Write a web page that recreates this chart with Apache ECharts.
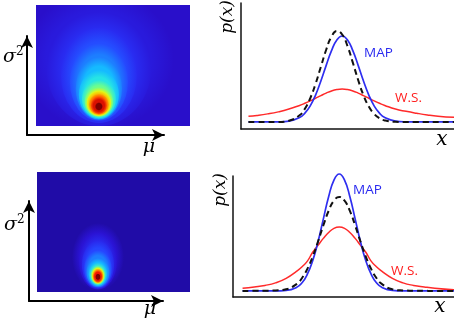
<!DOCTYPE html>
<html>
<head>
<meta charset="utf-8">
<script src="https://cdn.jsdelivr.net/npm/echarts@6/dist/echarts.min.js"></script>
<style>
  html, body { margin: 0; padding: 0; background: #fff; }
  #chart { width: 454px; height: 321px; }
</style>
</head>
<body>
<div id="chart"></div>
<script>
// posterior contours (left panels): level, sigma^2 low/high extent, mu half width
// first entry is the flat floor of the field
const topMu = -0.55;
const topLevels   = [0.10, 0.14, 0.19, 0.25, 0.32, 0.40, 0.47, 0.55, 0.65, 0.74, 0.83, 0.92, 1.0];
const topSigLow   = [-4.0, -0.13, 0.0, 0.10, 0.17, 0.20, 0.23, 0.26, 0.30, 0.33, 0.36, 0.40, 0.50];
const topSigHigh  = [8.0, 4.50, 3.77, 3.24, 2.74, 2.28, 1.85, 1.52, 1.29, 1.16, 1.06, 0.96, 0.79];
const topMuHalf   = [6.0, 2.92, 2.03, 1.48, 1.13, 0.90, 0.78, 0.66, 0.55, 0.47, 0.39, 0.31, 0.16];

const botMu = -0.61;
const botLevels   = [0.03, 0.12, 0.18, 0.24, 0.32, 0.40, 0.50, 0.65, 0.80, 0.90, 1.0];
const botSigLow   = [-4.0, 0.03, 0.08, 0.11, 0.14, 0.17, 0.20, 0.24, 0.28, 0.32, 0.39];
const botSigHigh  = [8.0, 2.30, 1.97, 1.70, 1.40, 1.13, 0.98, 0.87, 0.79, 0.72, 0.62];
const botMuHalf   = [6.0, 1.02, 0.74, 0.63, 0.54, 0.45, 0.36, 0.29, 0.23, 0.18, 0.11];

// densities (right panels)
const topX = [-4.4, -4, -3.5, -3, -2.5, -2, -1.75, -1.5, -1.25, -1, -0.75, -0.5, -0.25, 0,
  0.25, 0.5, 0.75, 1, 1.25, 1.5, 1.75, 2, 2.5, 3, 3.5, 4, 4.5, 5.25];
const topMAP = [0.056, 0.056, 0.056, 0.057, 0.063, 0.091, 0.126, 0.184, 0.269, 0.381, 0.505, 0.622, 0.707, 0.738,
  0.707, 0.622, 0.505, 0.381, 0.269, 0.184, 0.126, 0.091, 0.063, 0.057, 0.056, 0.056, 0.056, 0.056];
const topTrue = [0.056, 0.056, 0.056, 0.056, 0.066, 0.109, 0.161, 0.244, 0.358, 0.494, 0.629, 0.733, 0.778, 0.750,
  0.658, 0.527, 0.389, 0.268, 0.178, 0.120, 0.086, 0.068, 0.057, 0.056, 0.056, 0.056, 0.056, 0.056];
const topWS = [0.101, 0.108, 0.120, 0.136, 0.158, 0.187, 0.204, 0.223, 0.244, 0.265, 0.285, 0.302, 0.313, 0.317,
  0.313, 0.302, 0.285, 0.265, 0.244, 0.223, 0.204, 0.187, 0.158, 0.140, 0.125, 0.112, 0.102, 0.093];

const botX = [-4.55, -4, -3.5, -3, -2.5, -2, -1.75, -1.5, -1.25, -1, -0.75, -0.5, -0.25, 0,
  0.25, 0.5, 0.75, 1, 1.25, 1.5, 1.75, 2, 2.5, 3, 3.5, 4, 4.5, 5.4];
const botMAP = [0.048, 0.048, 0.048, 0.048, 0.052, 0.077, 0.113, 0.181, 0.288, 0.438, 0.618, 0.795, 0.927, 0.976,
  0.927, 0.795, 0.618, 0.438, 0.288, 0.181, 0.113, 0.077, 0.052, 0.048, 0.048, 0.048, 0.048, 0.048];
const botTrue = [0.048, 0.049, 0.050, 0.052, 0.061, 0.104, 0.151, 0.223, 0.320, 0.439, 0.567, 0.683, 0.764, 0.794,
  0.764, 0.683, 0.567, 0.439, 0.320, 0.223, 0.151, 0.104, 0.061, 0.052, 0.050, 0.049, 0.048, 0.048];
const botWS = [0.069, 0.080, 0.092, 0.112, 0.148, 0.205, 0.240, 0.285, 0.355, 0.410, 0.465, 0.512, 0.545, 0.556,
  0.545, 0.512, 0.465, 0.410, 0.355, 0.285, 0.240, 0.205, 0.148, 0.112, 0.092, 0.080, 0.070, 0.057];

const jet = ['#1c0a98', '#2a10d0', '#2838ff', '#1c88ff', '#10dcff', '#70ff88',
  '#f8f800', '#ff8800', '#ff1800', '#800000'];

function contours(mu, levels, lo, hi, half) {
  return levels.map((l, i) => [mu, (lo[i] + hi[i]) / 2, half[i], (hi[i] - lo[i]) / 2, l]);
}
function pairs(xs, ys) {
  return xs.map((x, i) => [x, ys[i]]);
}

// each contour fades into the colour of the one around it
function renderBlob(params, api) {
  const i = params.dataIndexInside;
  const c = api.coord([api.value(0), api.value(1)]);
  const s = api.size([api.value(2), api.value(3)]);
  const col = api.visual('color');
  const outer = i > 0 ? api.visual('color', i - 1) : col;
  const cs = params.coordSys;
  return {
    type: 'group',
    clipPath: { type: 'rect', shape: { x: cs.x, y: cs.y, width: cs.width, height: cs.height } },
    children: [{
      type: 'circle',
      x: c[0], y: c[1], scaleY: s[1] / s[0],
      shape: { cx: 0, cy: 0, r: s[0] },
      style: {
        fill: new echarts.graphic.RadialGradient(0.5, 0.5, 0.5, [
          { offset: 0, color: col }, { offset: 0.7, color: col }, { offset: 1, color: outer }
        ])
      }
    }]
  };
}

const hidden = { show: false };
const plainAxis = (grid, min, max) => ({
  type: 'value', gridIndex: grid, min: min, max: max,
  axisLine: { show: true, onZero: false, lineStyle: { color: '#111', width: 1.5 } },
  axisTick: hidden, axisLabel: hidden, splitLine: hidden
});
const arrowAxis = (grid) => ({
  type: 'value', gridIndex: grid, min: 0, max: 1,
  axisLine: { show: true, onZero: false, symbol: ['none', 'arrow'], symbolSize: [9, 12],
    lineStyle: { color: '#000', width: 2 } },
  axisTick: hidden, axisLabel: hidden, splitLine: hidden
});
const blankAxis = (grid, min, max) => ({
  type: 'value', gridIndex: grid, min: min, max: max, show: false
});

const serif = 'DejaVu Serif';
const label = (x, y, text, color) => ({
  type: 'text', x: x, y: y,
  style: { text: text, fill: color, font: '13.5px "Open Sans"', verticalAlign: 'middle' }
});
const sigma = (x, y) => ({
  type: 'text', x: x, y: y,
  style: {
    text: '{a|σ}{b|2}',
    rich: {
      a: { font: 'italic 19px "' + serif + '"', fill: '#000' },
      b: { font: '12px "' + serif + '"', fill: '#000', verticalAlign: 'top', padding: [0, 0, 10, 0] }
    }
  }
});
const italic = (x, y, text, size, rot) => ({
  type: 'text', x: x, y: y, rotation: rot || 0,
  style: { text: text, fill: '#000', font: 'italic ' + size + 'px "' + serif + '"',
    align: 'center', verticalAlign: 'middle' }
});

const chart = echarts.init(document.getElementById('chart'));

const option = {
  animation: false,
  grid: [
    { left: 36, top: 5, width: 154, height: 121 },
    { left: 27, top: 36, width: 137, height: 99 },
    { left: 37, top: 172, width: 153, height: 120 },
    { left: 29, top: 201, width: 134, height: 100 },
    { left: 241, top: 3, width: 213, height: 126 },
    { left: 233, top: 176, width: 221, height: 121 }
  ],
  xAxis: [
    blankAxis(0, -3, 3), arrowAxis(1), blankAxis(2, -3, 3), arrowAxis(3),
    plainAxis(4, -4.75, 5.25), plainAxis(5, -5, 5.4)
  ],
  yAxis: [
    blankAxis(0, 0, 4), arrowAxis(1), blankAxis(2, 0, 4), arrowAxis(3),
    plainAxis(4, 0, 1), plainAxis(5, 0, 0.96)
  ],
  visualMap: {
    show: false, type: 'continuous', min: 0, max: 1, dimension: 4,
    seriesIndex: [0, 1], inRange: { color: jet }
  },
  series: [
    { type: 'custom', xAxisIndex: 0, yAxisIndex: 0, renderItem: renderBlob,
      data: contours(topMu, topLevels, topSigLow, topSigHigh, topMuHalf) },
    { type: 'custom', xAxisIndex: 2, yAxisIndex: 2, renderItem: renderBlob,
      data: contours(botMu, botLevels, botSigLow, botSigHigh, botMuHalf) },
    { type: 'line', xAxisIndex: 4, yAxisIndex: 4, smooth: true, showSymbol: false,
      lineStyle: { color: '#ff2a2a', width: 1.5 }, data: pairs(topX, topWS) },
    { type: 'line', xAxisIndex: 4, yAxisIndex: 4, smooth: true, showSymbol: false,
      lineStyle: { color: '#2e2ef0', width: 1.7 }, data: pairs(topX, topMAP) },
    { type: 'line', xAxisIndex: 4, yAxisIndex: 4, smooth: true, showSymbol: false,
      lineStyle: { color: '#111', width: 2, type: [6, 4] }, data: pairs(topX, topTrue) },
    { type: 'line', xAxisIndex: 5, yAxisIndex: 5, smooth: true, showSymbol: false, clip: false,
      lineStyle: { color: '#ff2a2a', width: 1.5 }, data: pairs(botX, botWS) },
    { type: 'line', xAxisIndex: 5, yAxisIndex: 5, smooth: true, showSymbol: false, clip: false,
      lineStyle: { color: '#2e2ef0', width: 1.7 }, data: pairs(botX, botMAP) },
    { type: 'line', xAxisIndex: 5, yAxisIndex: 5, smooth: true, showSymbol: false, clip: false,
      lineStyle: { color: '#111', width: 2, type: [6, 4] }, data: pairs(botX, botTrue) }
  ],
  graphic: [
    sigma(3, 46), italic(149, 147, 'μ', 19),
    sigma(4, 214), italic(150, 309, 'μ', 19),
    italic(228, 17, 'p(x)', 17, Math.PI / 2), italic(221, 190, 'p(x)', 17, Math.PI / 2),
    italic(442, 140, 'x', 20), italic(440, 307, 'x', 20),
    label(364, 53, 'MAP', '#2a2af0'), label(395, 98, 'W.S.', '#ff2020'),
    label(353, 190, 'MAP', '#2a2af0'), label(391, 271, 'W.S.', '#ff2020')
  ]
};

chart.setOption(option);
</script>
</body>
</html>
